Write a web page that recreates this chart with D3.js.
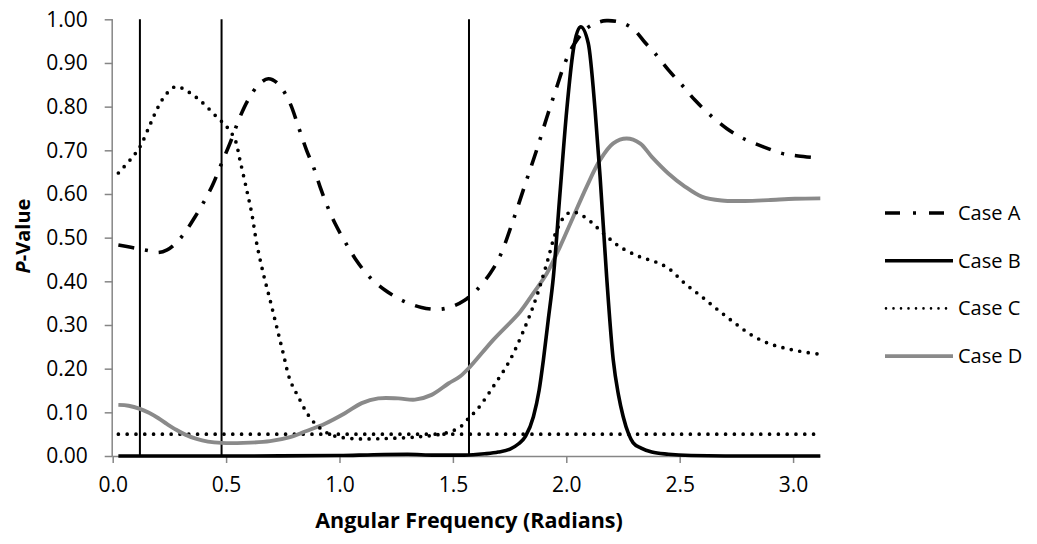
<!DOCTYPE html>
<html>
<head>
<meta charset="utf-8">
<script src="https://cdn.jsdelivr.net/npm/d3@7"></script>
<style>
  html, body { margin: 0; padding: 0; background: #fff; }
  svg { display: block; font-family: 'Open Sans', 'Noto Sans', sans-serif; }
</style>
</head>
<body>
<div id="chart"></div>
<script>
// values: [angular frequency, p-value]
const caseA = [[0.025,0.483],[0.08,0.478],[0.12,0.474],[0.16,0.470],[0.2,0.466],[0.24,0.472],[0.28,0.488],[0.32,0.513],[0.36,0.545],[0.40,0.580],[0.44,0.62],[0.48,0.67],[0.52,0.72],[0.56,0.775],[0.60,0.818],[0.64,0.848],[0.686,0.864],[0.73,0.852],[0.78,0.81],[0.82,0.752],[0.855,0.70],[0.885,0.662],[0.914,0.617],[0.944,0.575],[0.98,0.533],[1.024,0.491],[1.068,0.453],[1.127,0.413],[1.20,0.380],[1.274,0.357],[1.362,0.34],[1.443,0.336],[1.50,0.343],[1.55,0.356],[1.605,0.38],[1.664,0.418],[1.708,0.458],[1.766,0.54],[1.825,0.632],[1.869,0.70],[1.914,0.775],[1.958,0.845],[1.994,0.90],[2.031,0.94],[2.09,0.979],[2.14,0.993],[2.178,0.997],[2.24,0.993],[2.295,0.978],[2.35,0.945],[2.391,0.922],[2.45,0.884],[2.509,0.85],[2.567,0.815],[2.634,0.781],[2.707,0.750],[2.78,0.727],[2.869,0.708],[2.95,0.693],[3.023,0.687],[3.12,0.682]];
const caseB = [[0.025,0],[0.5,0],[1.0,0.001],[1.15,0.003],[1.3,0.004],[1.42,0.002],[1.55,0.002],[1.64,0.005],[1.70,0.009],[1.752,0.016],[1.79,0.028],[1.82,0.045],[1.855,0.09],[1.88,0.15],[1.899,0.22],[1.92,0.31],[1.943,0.41],[1.972,0.60],[2.002,0.792],[2.031,0.93],[2.063,0.983],[2.097,0.945],[2.127,0.792],[2.149,0.64],[2.178,0.41],[2.207,0.22],[2.23,0.14],[2.251,0.09],[2.275,0.05],[2.295,0.03],[2.33,0.018],[2.377,0.009],[2.45,0.004],[2.55,0.001],[2.7,0],[3.12,0]];
const caseC = [[0.025,0.648],[0.08,0.68],[0.12,0.708],[0.164,0.758],[0.201,0.80],[0.238,0.83],[0.279,0.846],[0.333,0.834],[0.392,0.811],[0.458,0.777],[0.503,0.754],[0.539,0.725],[0.561,0.678],[0.591,0.609],[0.613,0.556],[0.635,0.487],[0.664,0.418],[0.694,0.357],[0.723,0.296],[0.752,0.235],[0.782,0.174],[0.818,0.136],[0.862,0.094],[0.907,0.067],[0.966,0.048],[1.054,0.040],[1.20,0.040],[1.347,0.044],[1.465,0.052],[1.531,0.066],[1.575,0.09],[1.605,0.105],[1.678,0.159],[1.752,0.22],[1.825,0.304],[1.869,0.365],[1.914,0.441],[1.958,0.517],[2.002,0.554],[2.038,0.558],[2.09,0.544],[2.163,0.51],[2.237,0.479],[2.325,0.456],[2.391,0.445],[2.45,0.43],[2.523,0.395],[2.597,0.365],[2.67,0.334],[2.744,0.304],[2.817,0.277],[2.891,0.258],[2.964,0.247],[3.038,0.239],[3.12,0.233]];
const caseD = [[0.025,0.117],[0.07,0.115],[0.12,0.108],[0.16,0.099],[0.2,0.087],[0.24,0.073],[0.28,0.060],[0.32,0.049],[0.37,0.039],[0.42,0.033],[0.48,0.030],[0.576,0.030],[0.694,0.034],[0.782,0.043],[0.848,0.056],[0.936,0.074],[1.024,0.098],[1.098,0.121],[1.171,0.132],[1.259,0.132],[1.333,0.129],[1.406,0.140],[1.48,0.166],[1.531,0.182],[1.575,0.204],[1.678,0.266],[1.796,0.33],[1.855,0.373],[1.914,0.418],[1.972,0.479],[2.031,0.548],[2.09,0.617],[2.149,0.678],[2.207,0.716],[2.266,0.727],[2.325,0.716],[2.377,0.685],[2.45,0.647],[2.523,0.617],[2.597,0.594],[2.685,0.585],[2.788,0.584],[2.891,0.586],[3.008,0.589],[3.12,0.59]];

const seriesNames = ['Case A', 'Case B', 'Case C', 'Case D'];
const markerFreqs = [0.12, 0.48, 1.571];   // vertical reference lines
const alphaLevel = 0.05;                    // horizontal significance line
const xRange = [0.025, 3.12];
const xTicks = [0, 0.5, 1.0, 1.5, 2.0, 2.5, 3.0];
const yTicks = [0, 0.1, 0.2, 0.3, 0.4, 0.5, 0.6, 0.7, 0.8, 0.9, 1.0];

const W = 1037, H = 544;
const plot = { left: 112.7, right: 820.3, top: 19.3, bottom: 456 };
const axisColor = '#868686';

const styles = {
    'Case A': { color: '#000', width: 3.6, dash: '16,11,3,11', cap: 'butt' },
    'Case B': { color: '#000', width: 3.6, dash: null, cap: 'butt' },
    'Case C': { color: '#000', width: 3.7, dash: '0,8.6', cap: 'round' },
    'Case D': { color: '#8a8a8a', width: 3.9, dash: null, cap: 'butt' }
};

const svg = d3.select('#chart').append('svg')
    .attr('width', W)
    .attr('height', H);

const x = d3.scaleLinear().domain([0, 3.12]).range([plot.left, plot.right]);
const y = d3.scaleLinear().domain([0, 1]).range([plot.bottom, plot.top]);

// axes
const yAxis = svg.append('g')
    .attr('transform', `translate(${plot.left},0)`)
    .call(d3.axisLeft(y).tickValues(yTicks).tickSize(8).tickPadding(17)
        .tickFormat(d3.format('.2f')));
const xAxis = svg.append('g')
    .attr('transform', `translate(0,${plot.bottom})`)
    .call(d3.axisBottom(x).tickValues(xTicks).tickSize(7).tickPadding(14)
        .tickFormat(d3.format('.1f')));

[xAxis, yAxis].forEach((g) => {
    g.select('.domain').attr('stroke', axisColor).attr('stroke-width', 1.5);
    g.selectAll('.tick line').attr('stroke', axisColor).attr('stroke-width', 1.5);
    g.selectAll('.tick text')
        .attr('fill', '#000')
        .style('font-size', '21px')
        .style('font-family', "'Open Sans', sans-serif");
});
xAxis.select('.domain').attr('d', `M${plot.left},0.5H${plot.right}`);
yAxis.select('.domain').attr('d', `M-0.5,${plot.bottom}V${plot.top}`);

// reference lines
svg.append('g').selectAll('line')
    .data(markerFreqs)
    .enter()
    .append('line')
    .attr('x1', (d) => x(d)).attr('x2', (d) => x(d))
    .attr('y1', y(1)).attr('y2', y(0))
    .attr('stroke', '#000')
    .attr('stroke-width', 2);

svg.append('line')
    .attr('x1', x(xRange[0])).attr('x2', x(xRange[1]))
    .attr('y1', y(alphaLevel)).attr('y2', y(alphaLevel))
    .attr('stroke', '#000')
    .attr('stroke-width', 3.7)
    .attr('stroke-linecap', 'round')
    .attr('stroke-dasharray', '0,8.8');

// series: smooth lines, B kept monotone so its flat tails stay at zero
const smooth = d3.line()
    .x((d) => x(d[0]))
    .y((d) => y(d[1]))
    .curve(d3.curveCatmullRom.alpha(0.5));
const monotone = d3.line()
    .x((d) => x(d[0]))
    .y((d) => y(d[1]))
    .curve(d3.curveMonotoneX);

const seriesData = { 'Case A': caseA, 'Case B': caseB, 'Case C': caseC, 'Case D': caseD };
const drawOrder = ['Case D', 'Case C', 'Case A', 'Case B'];

svg.append('g').selectAll('path')
    .data(drawOrder)
    .enter()
    .append('path')
    .attr('d', (name) => (name === 'Case B' ? monotone : smooth)(seriesData[name]))
    .attr('fill', 'none')
    .attr('stroke', (name) => styles[name].color)
    .attr('stroke-width', (name) => styles[name].width)
    .attr('stroke-linecap', (name) => styles[name].cap)
    .attr('stroke-linejoin', 'round')
    .attr('stroke-dasharray', (name) => styles[name].dash);

// axis titles
svg.append('text')
    .attr('x', 469)
    .attr('y', 528)
    .attr('text-anchor', 'middle')
    .style('font-size', '21.5px')
    .style('font-weight', 'bold')
    .text('Angular Frequency (Radians)');

const yTitle = svg.append('text')
    .attr('transform', 'translate(30,236) rotate(-90)')
    .attr('text-anchor', 'middle')
    .style('font-size', '20px')
    .style('font-weight', 'bold');
yTitle.append('tspan').style('font-style', 'italic').text('P');
yTitle.append('tspan').text('-Value');

// legend
const legendDash = {
    'Case A': '15,13,3,13',
    'Case B': null,
    'Case C': '0,7.5',
    'Case D': null
};
const legend = svg.append('g').selectAll('g')
    .data(seriesNames)
    .enter()
    .append('g')
    .attr('transform', (d, i) => `translate(885,${213 + i * 47.7})`);

legend.append('line')
    .attr('x1', (d) => (d === 'Case C' ? 1 : 0))
    .attr('x2', (d) => (d === 'Case C' ? 62 : 68))
    .attr('stroke', (d) => styles[d].color)
    .attr('stroke-width', (d) => (d === 'Case C' ? 2.6 : styles[d].width))
    .attr('stroke-linecap', (d) => styles[d].cap)
    .attr('stroke-dasharray', (d) => legendDash[d]);

legend.append('text')
    .attr('x', 73)
    .attr('y', 7)
    .style('font-size', '20px')
    .text((d) => d);
</script>
</body>
</html>
